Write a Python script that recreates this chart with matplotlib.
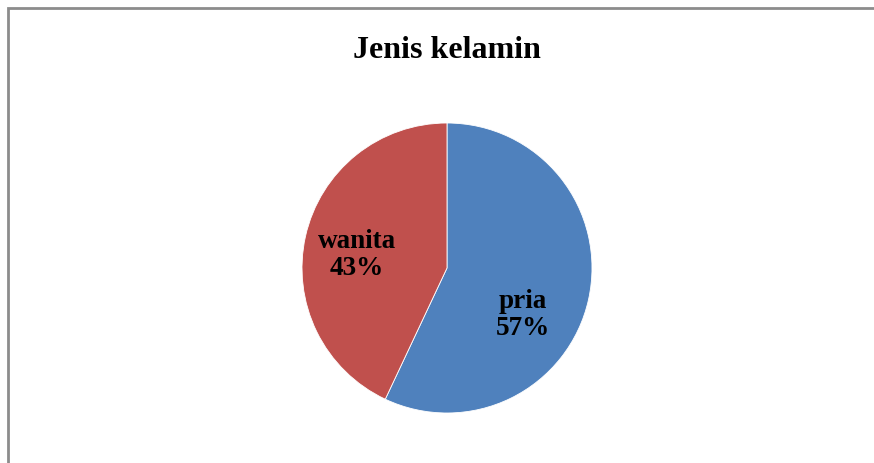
import matplotlib
matplotlib.use("Agg")
import matplotlib.pyplot as plt
from matplotlib.patches import Rectangle

title = "Jenis kelamin"
labels = ["pria", "wanita"]
values = [57, 43]
colors = ["#4F81BD", "#C0504D"]

W, H = 874, 464
fig = plt.figure(figsize=(W / 100, H / 100), dpi=100)
fig.patch.set_facecolor("white")

# Chart frame (runs off right and bottom edges)
fig.patches.append(Rectangle((8 / W, -0.05), 1.0, 1 - 8.5 / H + 0.05,
                             transform=fig.transFigure, fill=False,
                             edgecolor="#8c8c8c", linewidth=2))

# Pie: centre (447, 269), radius 145 px
cx, cy, r = 447, 269, 145
ax = fig.add_axes([(cx - r) / W, (H - cy - r) / H, 2 * r / W, 2 * r / H])
wedges, _ = ax.pie(values, colors=colors, startangle=90, counterclock=False,
                   wedgeprops=dict(edgecolor="white", linewidth=0.6))
ax.set_xlim(-1, 1)
ax.set_ylim(-1, 1)
ax.set_aspect("equal")
ax.axis("off")

font = dict(family="Liberation Serif", weight="bold", color="black")
fig.text(447 / W, 1 - 50 / H, title, ha="center", va="center", fontsize=23, **font)

# Data labels (label + percent), placed in figure pixels
label_pos = [(523, 315), (357, 255)]
for lab, v, (px, py) in zip(labels, values, label_pos):
    fig.text(px / W, 1 - py / H, f"{lab}\n{v}%", ha="center", va="center",
             fontsize=19.5, linespacing=1.15, **font)

fig.savefig("out.png", dpi=100)
